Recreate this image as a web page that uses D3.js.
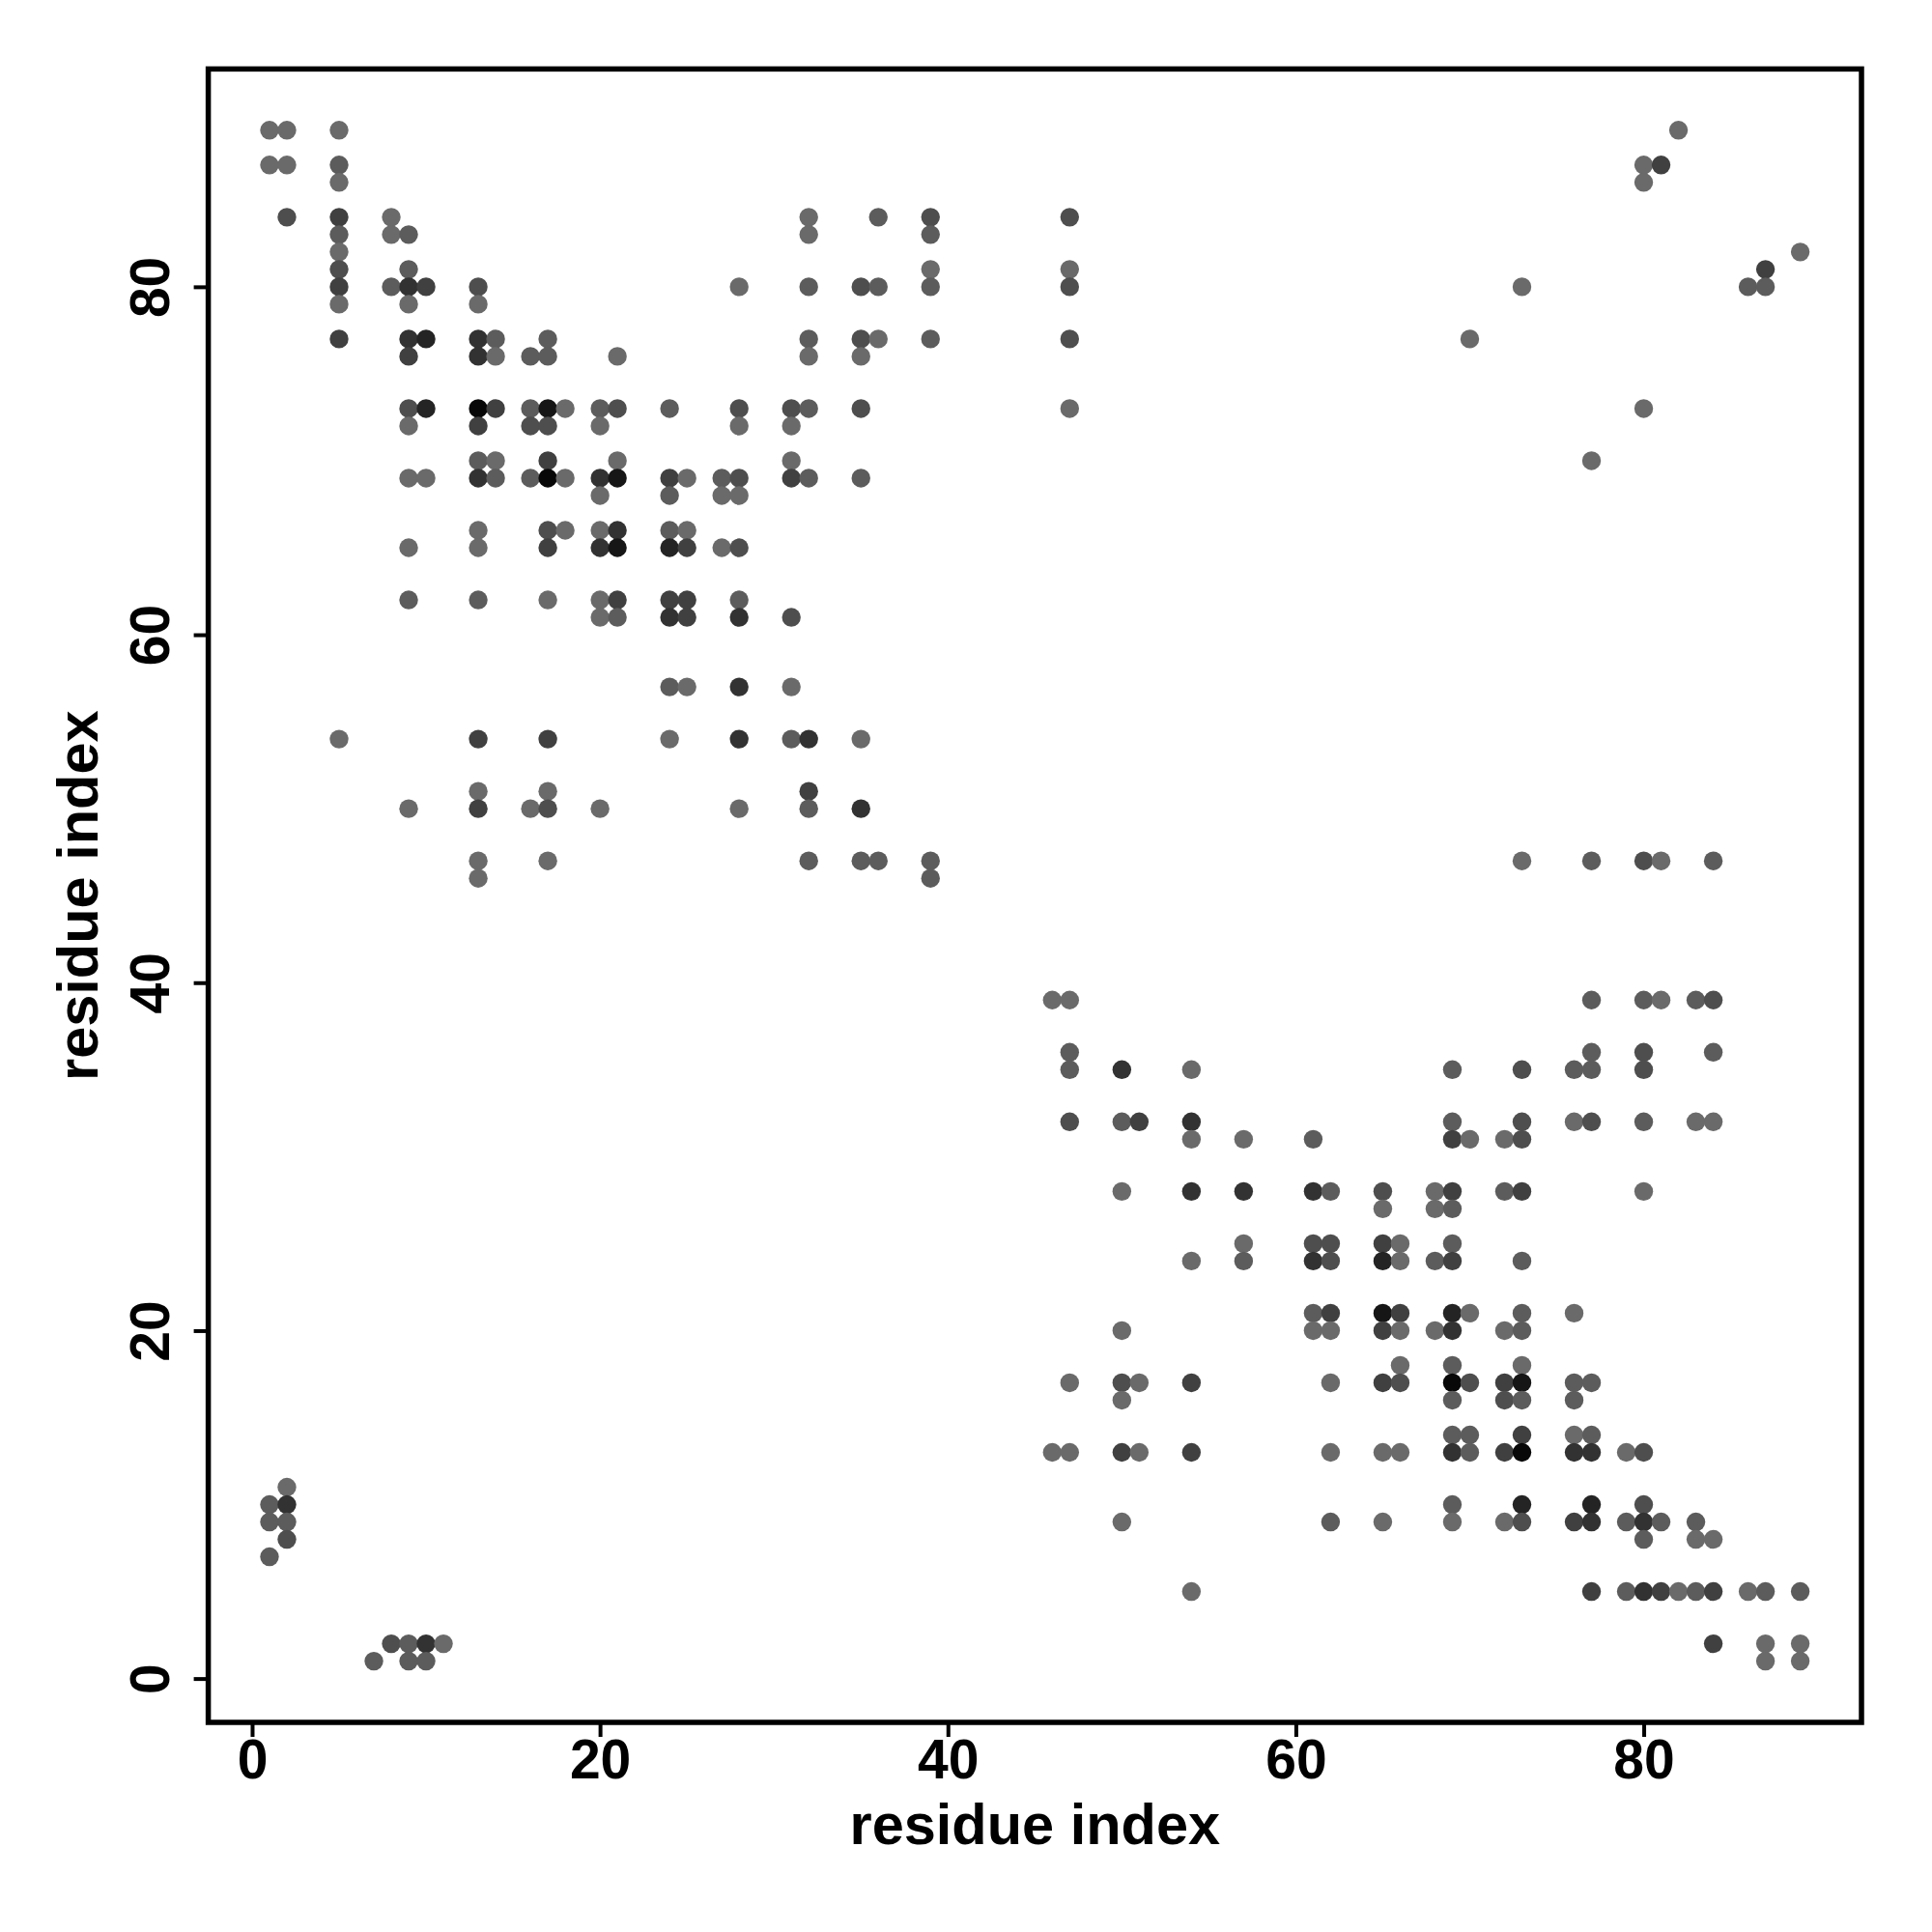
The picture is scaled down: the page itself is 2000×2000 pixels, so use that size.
<!DOCTYPE html>
<html>
<head>
<meta charset="utf-8">
<script src="https://cdn.jsdelivr.net/npm/d3@7"></script>
<style>
  html, body { margin: 0; padding: 0; background: #fff; }
  text { font-family: "Liberation Sans", Arial, Helvetica, sans-serif; font-weight: bold; }
</style>
</head>
<body>
<script>
// [residue i, residue j, contact strength level 1..8]
const upperLeft = [
  [1,89,1],[2,89,1],[5,89,1],
  [1,87,1],[2,87,1],[5,87,2],
  [5,86,1],
  [2,84,3],[5,84,4],[8,84,1],[32,84,1],[36,84,2],[39,84,3],
  [5,83,2],[8,83,1],[9,83,2],[32,83,1],[39,83,2],
  [5,82,1],
  [5,81,3],[9,81,2],[39,81,1],
  [5,80,4],[8,80,2],[9,80,5],[10,80,4],[13,80,3],[28,80,1],[32,80,2],[35,80,3],[36,80,2],[39,80,2],
  [5,79,1],[9,79,1],[13,79,1],
  [5,77,4],[9,77,5],[10,77,6],[13,77,5],[14,77,2],[17,77,2],[32,77,2],[35,77,3],[36,77,1],[39,77,2],
  [9,76,4],[13,76,5],[14,76,1],[16,76,2],[17,76,2],[21,76,1],[32,76,1],[35,76,1],
  [9,73,3],[10,73,6],[13,73,8],[14,73,4],[16,73,2],[17,73,7],[18,73,1],[20,73,2],[21,73,3],[24,73,2],[28,73,3],[31,73,3],[32,73,2],[35,73,3],
  [9,72,1],[13,72,4],[16,72,3],[17,72,3],[20,72,1],[28,72,1],[31,72,1],
  [13,70,2],[14,70,1],[17,70,4],[21,70,1],[31,70,1],
  [9,69,1],[10,69,1],[13,69,5],[14,69,2],[16,69,2],[17,69,8],[18,69,1],[20,69,5],[21,69,7],[24,69,4],[25,69,1],[27,69,2],[28,69,3],[31,69,4],[32,69,2],[35,69,2],
  [20,68,1],[24,68,2],[27,68,1],[28,68,1],
  [13,66,1],[17,66,3],[18,66,1],[20,66,1],[21,66,5],[24,66,2],[25,66,1],
  [9,65,1],[13,65,1],[17,65,4],[20,65,5],[21,65,7],[24,65,6],[25,65,4],[27,65,1],[28,65,3],
  [9,62,2],[13,62,2],[17,62,1],[20,62,1],[21,62,4],[24,62,4],[25,62,4],[28,62,2],
  [20,61,1],[21,61,2],[24,61,5],[25,61,4],[28,61,5],[31,61,3],
  [24,57,2],[25,57,1],[28,57,5],[31,57,1],
  [5,54,1],[13,54,4],[17,54,4],[24,54,1],[28,54,5],[31,54,2],[32,54,5],[35,54,1],
  [13,51,1],[17,51,1],[32,51,4],
  [9,50,1],[13,50,4],[16,50,1],[17,50,3],[20,50,1],[28,50,1],[32,50,2],[35,50,5],
  [13,47,1],[17,47,1],[32,47,2],[35,47,2],[36,47,2],[39,47,2],
  [13,46,1],[39,46,2],
  [47,84,3],[47,81,1],[47,80,3],[47,77,3],[47,73,1]
];
const upperRight = [
  [82,89,1],[80,87,1],[81,87,4],[80,86,1],[89,82,1],[87,81,4],[86,80,2],[87,80,2],
  [73,80,1],[70,77,1],[80,73,1],[77,70,1]
];
const lowerLeft = [
  [2,11,1],[1,10,2],[2,10,5],[1,9,2],[2,9,2],[2,8,3],[1,7,2],
  [8,2,3],[9,2,2],[10,2,5],[11,2,1],[7,1,2],[9,1,2],[10,1,2]
];
const lowerRight = [
  [73,47,1],[77,47,2],[80,47,3],[81,47,1],[84,47,2],
  [46,39,1],[47,39,1],[77,39,2],[80,39,2],[81,39,1],[83,39,2],[84,39,3],
  [47,36,2],[77,36,2],[80,36,3],[84,36,2],
  [47,35,2],[50,35,5],[54,35,1],[69,35,2],[73,35,3],[76,35,2],[77,35,2],[80,35,3],
  [47,32,3],[50,32,2],[51,32,4],[54,32,5],[69,32,2],[73,32,3],[76,32,1],[77,32,3],[80,32,2],[83,32,1],[84,32,1],
  [54,31,1],[57,31,1],[61,31,2],[69,31,4],[70,31,1],[72,31,1],[73,31,3],
  [50,28,1],[54,28,5],[57,28,5],[61,28,5],[62,28,2],[65,28,3],[68,28,1],[69,28,4],[72,28,2],[73,28,4],[80,28,1],
  [65,27,1],[68,27,1],[69,27,2],
  [57,25,1],[61,25,3],[62,25,3],[65,25,4],[66,25,1],[69,25,2],
  [54,24,1],[57,24,2],[61,24,5],[62,24,3],[65,24,6],[66,24,1],[68,24,2],[69,24,4],[73,24,2],
  [61,21,2],[62,21,4],[65,21,7],[66,21,4],[69,21,6],[70,21,1],[73,21,2],[76,21,1],
  [50,20,1],[61,20,1],[62,20,1],[65,20,4],[66,20,1],[68,20,1],[69,20,5],[72,20,1],[73,20,2],
  [66,18,1],[69,18,2],[73,18,1],
  [47,17,1],[50,17,3],[51,17,1],[54,17,4],[62,17,1],[65,17,4],[66,17,3],[69,17,8],[70,17,3],[72,17,4],[73,17,7],[76,17,2],[77,17,2],
  [50,16,1],[69,16,2],[72,16,3],[73,16,2],[76,16,2],
  [69,14,2],[70,14,2],[73,14,4],[76,14,1],[77,14,2],
  [46,13,1],[47,13,1],[50,13,4],[51,13,1],[54,13,4],[62,13,1],[65,13,1],[66,13,1],[69,13,5],[70,13,2],[72,13,4],[73,13,8],[76,13,5],[77,13,5],[79,13,1],[80,13,3],
  [69,10,2],[73,10,6],[77,10,6],[80,10,3],
  [50,9,1],[62,9,2],[65,9,1],[69,9,1],[72,9,1],[73,9,3],[76,9,4],[77,9,5],[79,9,2],[80,9,5],[81,9,2],[83,9,2],
  [80,8,2],[83,8,1],[84,8,1],
  [54,5,1],[77,5,4],[79,5,2],[80,5,5],[81,5,4],[82,5,1],[83,5,2],[84,5,4],[86,5,1],[87,5,2],[89,5,2],
  [84,2,4],[87,2,1],[89,2,1],
  [87,1,1],[89,1,1]
];
const xTicks = [0, 20, 40, 60, 80];
const yTicks = [0, 20, 40, 60, 80];
const xLabel = "residue index";
const yLabel = "residue index";

const W = 2000, H = 2000;
const L = 215.6, R = 1927, T = 71.4, B = 1783;

const svg = d3.select("body").append("svg")
  .attr("width", W).attr("height", H)
  .style("background", "#fff");

const x = d3.scaleLinear().domain([-2.52, 92.52]).range([L, R]);
const y = d3.scaleLinear().domain([-2.52, 92.52]).range([B, T]);
const grey = d3.scaleLinear().domain([1, 8]).range([106, 8]);
const fill = lv => { const g = Math.round(grey(lv)); return `rgb(${g},${g},${g})`; };

const all = upperLeft.concat(upperRight, lowerLeft, lowerRight);

svg.append("g").selectAll("circle")
  .data(all)
  .join("circle")
  .attr("cx", d => x(d[0]))
  .attr("cy", d => y(d[1]))
  .attr("r", 9.7)
  .attr("fill", d => fill(d[2]));

// frame
svg.append("rect")
  .attr("x", L).attr("y", T)
  .attr("width", R - L).attr("height", B - T)
  .attr("fill", "none").attr("stroke", "#000").attr("stroke-width", 5.5);

// x axis
const xAxis = d3.axisBottom(x).tickValues(xTicks).tickSize(15).tickPadding(8).tickFormat(d3.format("d"));
const gx = svg.append("g").attr("transform", `translate(0,${B})`).call(xAxis);
gx.select(".domain").remove();
gx.selectAll(".tick line").attr("stroke", "#000").attr("stroke-width", 4);
gx.selectAll(".tick text")
  .attr("font-size", 57).attr("font-weight", "bold").attr("fill", "#000")
  .attr("font-family", "'Liberation Sans', Arial, sans-serif")
  .attr("y", 0).attr("dy", 0)
  .attr("transform", "translate(0,58)");

// y axis
const yAxis = d3.axisLeft(y).tickValues(yTicks).tickSize(15).tickFormat(d3.format("d"));
const gy = svg.append("g").attr("transform", `translate(${L},0)`).call(yAxis);
gy.select(".domain").remove();
gy.selectAll(".tick line").attr("stroke", "#000").attr("stroke-width", 4);
gy.selectAll(".tick text")
  .attr("font-size", 57).attr("font-weight", "bold").attr("fill", "#000")
  .attr("font-family", "'Liberation Sans', Arial, sans-serif")
  .attr("x", 0).attr("dy", 0)
  .attr("text-anchor", "middle")
  .attr("transform", "translate(-41,0) rotate(-90)");

// axis titles
svg.append("text")
  .attr("x", (L + R) / 2).attr("y", 1909)
  .attr("text-anchor", "middle")
  .attr("font-size", 59.5).attr("fill", "#000")
  .text(xLabel);

svg.append("text")
  .attr("transform", `translate(101,${(T + B) / 2}) rotate(-90)`)
  .attr("text-anchor", "middle")
  .attr("font-size", 59.5).attr("fill", "#000")
  .text(yLabel);
</script>
</body>
</html>
